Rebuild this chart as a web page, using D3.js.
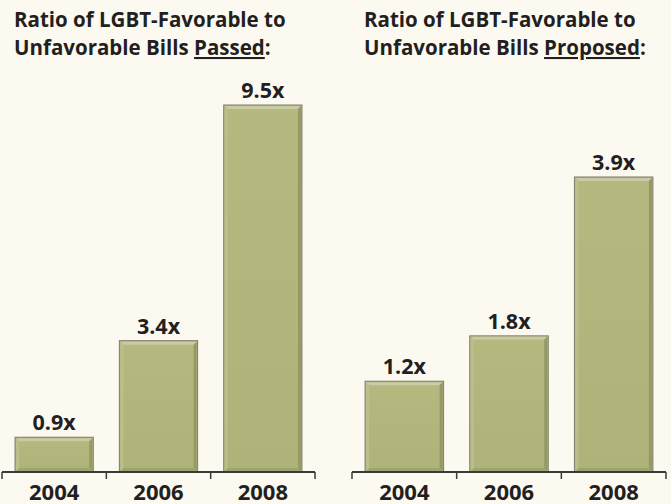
<!DOCTYPE html>
<html>
<head>
<meta charset="utf-8">
<script src="https://cdn.jsdelivr.net/npm/d3@7"></script>
<style>
  body { margin: 0; background: #fcf9f1; }
  svg { display: block; }
  text { font-family: "Open Sans", "Noto Sans", sans-serif; font-weight: bold; fill: #231f20; }
</style>
</head>
<body>
<div id="app"></div>
<script>
var w = 671
var h = 504
const axisY = 472

const years = ["2004", "2006", "2008"]
const passed = [0.9, 3.4, 9.5]
const proposed = [1.2, 1.8, 3.9]
const labelsPassed = ["0.9x", "3.4x", "9.5x"]
const labelsProposed = ["1.2x", "1.8x", "3.9x"]

const svg = d3.select("#app")
  .append("svg")
  .attr("width", w)
  .attr("height", h)
  .style("background-color", "#fcf9f1")

const defs = svg.append("defs")
const grad = defs.append("linearGradient")
  .attr("id", "barGrad")
  .attr("x1", 0).attr("y1", 0).attr("x2", 0).attr("y2", 1)
grad.append("stop").attr("offset", 0).attr("stop-color", "#b5b980")
grad.append("stop").attr("offset", 1).attr("stop-color", "#afb37a")

// one panel = title + bars + axis
function panel(x0, x1, yTop, values, labels, title2, word) {
  const g = svg.append("g")

  g.append("text")
    .attr("x", x0 + 12)
    .attr("y", 27)
    .style("font-size", "20.5px")
    .text("Ratio of LGBT-Favorable to")
  const t2 = g.append("text")
    .attr("x", x0 + 12)
    .attr("y", 55)
    .style("font-size", "20.5px")
  t2.append("tspan").text(title2)
  t2.append("tspan").style("text-decoration", "underline").text(word)
  t2.append("tspan").text(":")

  const xScale = d3.scaleBand()
    .domain(years)
    .range([x0, x1])
    .paddingInner(0.25)
    .paddingOuter(0.125)

  const yScale = d3.scaleLinear()
    .domain([0, d3.max(values)])
    .range([axisY, yTop])

  const bars = g.selectAll(".bar")
    .data(values)
    .enter()
    .append("g")
    .attr("class", "bar")
    .attr("transform", (d, i) => "translate(" + xScale(years[i]) + "," + yScale(d) + ")")

  const bw = xScale.bandwidth()
  const bh = d => axisY - yScale(d)

  bars.append("rect")
    .attr("width", bw)
    .attr("height", bh)
    .attr("fill", "url(#barGrad)")
    .attr("stroke", "#7d7d6a")
    .attr("stroke-width", 1)
  // bevel: light top, darker right and bottom
  bars.append("path")
    .attr("d", d => "M1,1 H" + (bw - 1) + " L" + (bw - 4) + ",4 H4 Z")
    .attr("fill", "#c9cba4")
  bars.append("path")
    .attr("d", d => "M" + (bw - 1) + ",1 V" + (bh(d) - 1) + " L" + (bw - 4) + "," + (bh(d) - 4) + " V4 Z")
    .attr("fill", "#959965")
  bars.append("path")
    .attr("d", d => "M1," + (bh(d) - 1) + " H" + (bw - 1) + " L" + (bw - 4) + "," + (bh(d) - 4) + " H4 Z")
    .attr("fill", "#9fa36e")
  bars.append("path")
    .attr("d", d => "M1,1 V" + (bh(d) - 1) + " L4," + (bh(d) - 4) + " V4 Z")
    .attr("fill", "#bcbf8c")

  g.selectAll(".val")
    .data(values)
    .enter()
    .append("text")
    .attr("class", "val")
    .attr("x", (d, i) => xScale(years[i]) + bw / 2)
    .attr("y", d => yScale(d) - 7)
    .attr("text-anchor", "middle")
    .style("font-size", "21.5px")
    .text((d, i) => labels[i])

  // axis with ticks at band boundaries
  const step = xScale.step()
  const tickXs = d3.range(years.length + 1).map(i => x0 + i * step)
  g.append("line")
    .attr("x1", x0).attr("x2", x1)
    .attr("y1", axisY).attr("y2", axisY)
    .attr("stroke", "#3a3a3a")
    .attr("stroke-width", 2)
  g.selectAll(".tick")
    .data(tickXs)
    .enter()
    .append("line")
    .attr("x1", d => d).attr("x2", d => d)
    .attr("y1", axisY).attr("y2", axisY + 7)
    .attr("stroke", "#3a3a3a")
    .attr("stroke-width", 1.5)

  g.selectAll(".yr")
    .data(years)
    .enter()
    .append("text")
    .attr("x", d => xScale(d) + bw / 2)
    .attr("y", 500)
    .attr("text-anchor", "middle")
    .style("font-size", "22px")
    .text(d => d)
}

panel(2, 315, 105, passed, labelsPassed, "Unfavorable Bills ", "Passed")
panel(352, 666, 177, proposed, labelsProposed, "Unfavorable Bills ", "Proposed")
</script>
</body>
</html>
